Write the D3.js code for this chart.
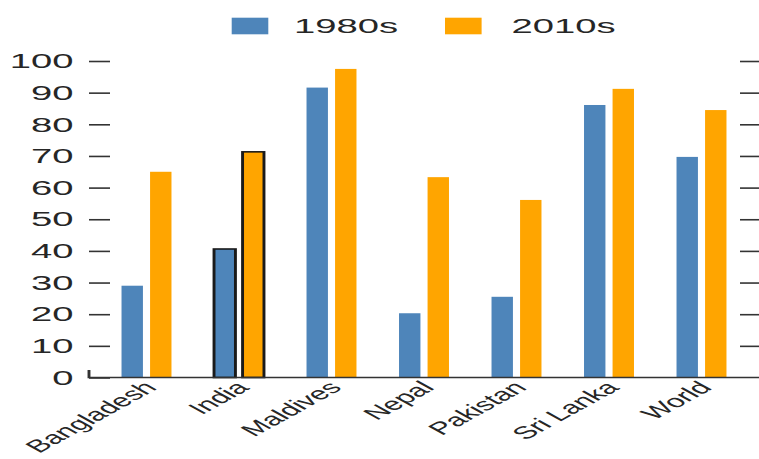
<!DOCTYPE html>
<html>
<head>
<meta charset="utf-8">
<script src="https://cdn.jsdelivr.net/npm/d3@7"></script>
<style>
  html, body { margin: 0; padding: 0; background: #fff; }
  svg { display: block; }
  text { font-family: "Liberation Sans", Arial, Helvetica, sans-serif; fill: #262626; }
</style>
</head>
<body>
<div id="chart"></div>
<script>
// ---- data ----
const categories = ["Bangladesh", "India", "Maldives", "Nepal", "Pakistan", "Sri Lanka", "World"];
const seriesNames = ["1980s", "2010s"];
const values1980s = [29, 40.6, 91.6, 20.3, 25.5, 86.1, 69.7];
const values2010s = [65, 71.3, 97.5, 63.3, 56.1, 91.2, 84.5];
const yTicks = [0, 10, 20, 30, 40, 50, 60, 70, 80, 90, 100];
const highlighted = ["India"];
const seriesColors = ["#4e85ba", "#ffa500"];

// ---- layout (chart is stretched horizontally) ----
const S = 1.82;                 // horizontal stretch factor
const PW = 759, PH = 459;
const W = PW / S, H = PH;
const px = v => v / S;          // convert screen px (horizontal) to viewBox units

const rows = categories.map((c, i) => ({ cat: c, vals: [values1980s[i], values2010s[i]] }));

const svg = d3.select("#chart").append("svg")
  .attr("width", PW).attr("height", PH)
  .attr("viewBox", `0 0 ${W} ${H}`)
  .attr("preserveAspectRatio", "none");

const y = d3.scaleLinear().domain([0, 100]).range([377.5, 61]);
const x0 = d3.scaleBand().domain(categories).range([px(100.25), px(747.75)])
  .paddingInner(0.46).paddingOuter(0.23);
const x1 = d3.scaleBand().domain(seriesNames).range([0, x0.bandwidth()]).paddingInner(0.25);
const color = d3.scaleOrdinal().domain(seriesNames).range(seriesColors);

// bars
const groups = svg.append("g").selectAll("g").data(rows).join("g")
  .attr("transform", d => `translate(${x0(d.cat)},0)`);
groups.selectAll("rect")
  .data(d => seriesNames.map((s, j) => ({ cat: d.cat, s, v: d.vals[j] })))
  .join("rect")
  .attr("x", d => x1(d.s))
  .attr("width", x1.bandwidth())
  .attr("y", d => y(d.v))
  .attr("height", d => y(0) - y(d.v))
  .attr("fill", d => color(d.s))
  .attr("stroke", d => highlighted.includes(d.cat) ? "#1a1a1a" : "none")
  .attr("stroke-width", 1.6);

// left axis (ticks pointing inward)
const yl = svg.append("g").attr("transform", `translate(${px(89)},0)`)
  .call(d3.axisLeft(y).tickValues(yTicks).tickSize(-px(21)).tickPadding(px(15.5)));
yl.select(".domain").remove();
yl.selectAll("line").attr("stroke", "#333").attr("stroke-width", 1.6);
yl.selectAll("text").attr("font-size", 21).attr("fill", "#262626")
  .attr("font-family", "'Liberation Sans', Arial, sans-serif");

// right axis (no labels)
const yr = svg.append("g").attr("transform", `translate(${px(760)},0)`)
  .call(d3.axisRight(y).tickValues(yTicks.slice(1)).tickSize(-px(20)).tickFormat(""));
yr.select(".domain").remove();
yr.selectAll("line").attr("stroke", "#333").attr("stroke-width", 1.6);

// x axis
const xa = svg.append("g").attr("transform", `translate(0,${y(0)})`)
  .call(d3.axisBottom(x0).tickSize(0));
xa.select(".domain").remove();
xa.selectAll("text")
  .attr("x", 0).attr("y", 0).attr("dy", 0)
  .attr("font-size", 17.5).attr("fill", "#262626")
  .attr("font-family", "'Liberation Sans', Arial, sans-serif")
  .attr("text-anchor", "end")
  .attr("transform", `translate(${px(11.5)},11) rotate(-45)`);
svg.append("path")
  .attr("d", `M${px(89)},${y(0) - 7.5}V${y(0)}H${px(760)}`)
  .attr("fill", "none").attr("stroke", "#333").attr("stroke-width", 1.6);

// legend
const legendX = [px(231.7), px(445)];
const legendTextX = [px(294), px(511.5)];
const lg = svg.append("g");
seriesNames.forEach((s, i) => {
  lg.append("rect").attr("x", legendX[i]).attr("y", 17.7)
    .attr("width", px(36.6)).attr("height", 16.6).attr("fill", color(s));
  lg.append("text").attr("x", legendTextX[i]).attr("y", 33.3)
    .attr("font-size", 21).attr("fill", "#262626").text(s);
});
</script>
</body>
</html>
